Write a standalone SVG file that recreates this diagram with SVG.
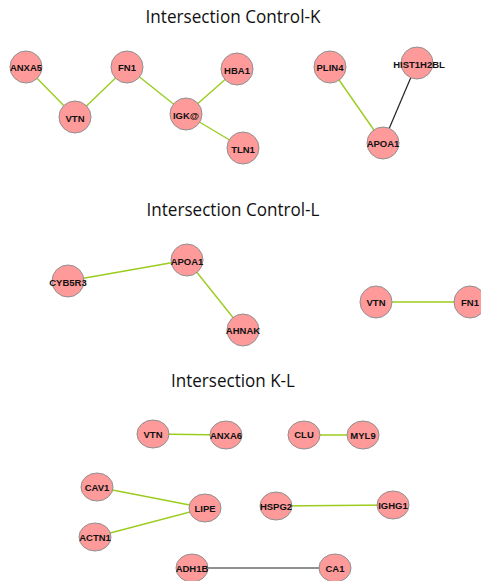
<svg xmlns="http://www.w3.org/2000/svg" width="481" height="581" viewBox="0 0 481 581">
<style>
.title{font-family:"Open Sans","Liberation Sans",sans-serif;font-size:18px;fill:#111;text-anchor:middle}
.n{fill:#FF9A9A;stroke:#8f8f8f;stroke-width:1}
.l{font-family:"Liberation Sans",Arial,sans-serif;font-size:9.5px;font-weight:bold;fill:#111;text-anchor:middle;dominant-baseline:central}
.g{stroke:#9ACD1E;stroke-width:1.4;fill:none}
.k{stroke:#222;stroke-width:1.2;fill:none}
</style>
<rect width="481" height="581" fill="#fff"/>
<text class="title" x="233" y="23" textLength="175" lengthAdjust="spacingAndGlyphs">Intersection Control-K</text>
<text class="title" x="233" y="216" textLength="173" lengthAdjust="spacingAndGlyphs">Intersection Control-L</text>
<text class="title" x="233" y="387" textLength="124" lengthAdjust="spacingAndGlyphs">Intersection K-L</text>
<g id="connectors">
<line class="g" x1="26" y1="67" x2="75" y2="117"/>
<line class="g" x1="75" y1="117" x2="127" y2="67"/>
<line class="g" x1="127" y1="67" x2="186" y2="114"/>
<line class="g" x1="186" y1="114" x2="237" y2="69"/>
<line class="g" x1="186" y1="114" x2="243" y2="148"/>
<line class="g" x1="330" y1="67" x2="383" y2="143"/>
<line class="k" x1="417" y1="63" x2="383" y2="143"/>
<line class="g" x1="68" y1="281" x2="187" y2="260"/>
<line class="g" x1="187" y1="260" x2="243" y2="330"/>
<line class="g" x1="376" y1="302" x2="470" y2="302"/>
<line class="g" x1="153" y1="434" x2="226" y2="435"/>
<line class="g" x1="304" y1="435" x2="363" y2="435"/>
<line class="g" x1="97" y1="487" x2="205" y2="508"/>
<line class="g" x1="95" y1="537" x2="205" y2="508"/>
<line class="g" x1="276" y1="506" x2="393" y2="505"/>
<line class="k" x1="192" y1="568" x2="335" y2="568"/>
</g>
<g id="k-anxa5"><circle class="n" cx="26" cy="67" r="16"/><text class="l" x="26" y="67">ANXA5</text></g>
<g id="k-vtn"><circle class="n" cx="75" cy="117" r="16"/><text class="l" x="75" y="118">VTN</text></g>
<g id="k-fn1"><circle class="n" cx="127" cy="67" r="16"/><text class="l" x="127" y="67">FN1</text></g>
<g id="k-igk"><circle class="n" cx="186" cy="114" r="16"/><text class="l" x="186" y="115">IGK@</text></g>
<g id="k-hba1"><circle class="n" cx="237" cy="69" r="16"/><text class="l" x="237" y="70">HBA1</text></g>
<g id="k-tln1"><circle class="n" cx="243" cy="148" r="16"/><text class="l" x="243" y="149">TLN1</text></g>
<g id="k-plin4"><circle class="n" cx="330" cy="67" r="16"/><text class="l" x="330" y="67">PLIN4</text></g>
<g id="k-hist"><circle class="n" cx="417" cy="63" r="16"/><text class="l" x="419" y="64">HIST1H2BL</text></g>
<g id="k-apoa1"><circle class="n" cx="383" cy="143" r="16"/><text class="l" x="383" y="143">APOA1</text></g>
<g id="l-apoa1"><circle class="n" cx="187" cy="260" r="16"/><text class="l" x="187" y="261">APOA1</text></g>
<g id="l-cyb5r3"><circle class="n" cx="68" cy="281" r="16"/><text class="l" x="68" y="282">CYB5R3</text></g>
<g id="l-ahnak"><circle class="n" cx="243" cy="330" r="16"/><text class="l" x="243" y="330">AHNAK</text></g>
<g id="l-vtn"><circle class="n" cx="376" cy="302" r="16"/><text class="l" x="376" y="302">VTN</text></g>
<g id="l-fn1"><circle class="n" cx="470" cy="302" r="16"/><text class="l" x="470" y="302">FN1</text></g>
<g id="kl-vtn"><ellipse class="n" cx="153" cy="434" rx="16" ry="14"/><text class="l" x="153" y="434">VTN</text></g>
<g id="kl-anxa6"><ellipse class="n" cx="226" cy="435" rx="16" ry="14"/><text class="l" x="226" y="435">ANXA6</text></g>
<g id="kl-clu"><ellipse class="n" cx="304" cy="435" rx="16" ry="14"/><text class="l" x="304" y="434">CLU</text></g>
<g id="kl-myl9"><ellipse class="n" cx="363" cy="435" rx="16" ry="14"/><text class="l" x="363" y="435">MYL9</text></g>
<g id="kl-cav1"><ellipse class="n" cx="97" cy="487" rx="16" ry="14"/><text class="l" x="97" y="487">CAV1</text></g>
<g id="kl-lipe"><ellipse class="n" cx="205" cy="508" rx="16" ry="14"/><text class="l" x="205" y="508">LIPE</text></g>
<g id="kl-actn1"><ellipse class="n" cx="95" cy="537" rx="16" ry="14"/><text class="l" x="95" y="537">ACTN1</text></g>
<g id="kl-hspg2"><ellipse class="n" cx="276" cy="506" rx="16" ry="14"/><text class="l" x="276" y="506">HSPG2</text></g>
<g id="kl-ighg1"><ellipse class="n" cx="393" cy="505" rx="16" ry="14"/><text class="l" x="393" y="505">IGHG1</text></g>
<g id="kl-adh1b"><ellipse class="n" cx="192" cy="568" rx="16" ry="14"/><text class="l" x="192" y="568">ADH1B</text></g>
<g id="kl-ca1"><ellipse class="n" cx="335" cy="568" rx="16" ry="14"/><text class="l" x="335" y="568">CA1</text></g>
</svg>
